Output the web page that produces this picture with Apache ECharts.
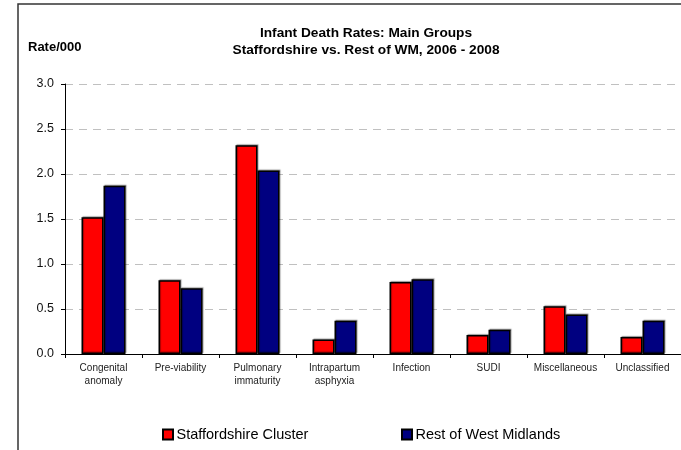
<!DOCTYPE html>
<html>
<head>
<meta charset="utf-8">
<script src="https://cdn.jsdelivr.net/npm/echarts@6/dist/echarts.min.js"></script>
<style>html,body{margin:0;padding:0;background:#fff;}#c{width:681px;height:450px;}</style>
</head>
<body>
<div id="c"></div>
<script>
var categories = ['Congenital\nanomaly', 'Pre-viability', 'Pulmonary\nimmaturity', 'Intrapartum\nasphyxia', 'Infection', 'SUDI', 'Miscellaneous', 'Unclassified'];
var staffordshire = [1.52, 0.82, 2.32, 0.16, 0.80, 0.21, 0.53, 0.19];
var restOfWM = [1.87, 0.73, 2.04, 0.37, 0.83, 0.27, 0.44, 0.37];
var seriesNames = ['Staffordshire Cluster', 'Rest of West Midlands'];
var titleLines = ['Infant Death Rates: Main Groups', 'Staffordshire vs. Rest of WM, 2006 - 2008'];
var yAxisTitle = 'Rate/000';

var FONT = 'Liberation Sans, Arial, sans-serif';
var chart = echarts.init(document.getElementById('c'), null, {renderer: 'canvas'});
var barStyle = function (color) {
  return {
    color: color,
    borderColor: '#000',
    borderWidth: 1.5,
    shadowColor: 'rgba(0,0,0,0.35)',
    shadowBlur: 1,
    shadowOffsetX: 1,
    shadowOffsetY: -1
  };
};
chart.setOption({
  animation: false,
  backgroundColor: '#fff',
  textStyle: {fontFamily: FONT},
  graphic: [{
    type: 'rect',
    shape: {x: 18, y: 4, width: 720, height: 520},
    style: {fill: 'none', stroke: '#333', lineWidth: 1.5},
    silent: true
  }],
  title: [{
    text: titleLines.join('\n'),
    left: 361,
    top: 19,
    textAlign: 'center',
    textStyle: {fontFamily: FONT, fontSize: 13.7, fontWeight: 'bold', color: '#000', lineHeight: 17.6}
  }, {
    text: yAxisTitle,
    left: 23,
    top: 36,
    textStyle: {fontFamily: FONT, fontSize: 13, fontWeight: 'bold', color: '#000'}
  }],
  legend: [{
    data: [seriesNames[0]],
    left: 157,
    top: 422,
    itemWidth: 10,
    itemHeight: 10,
    icon: 'rect',
    textStyle: {fontFamily: FONT, fontSize: 14.5, color: '#000', padding: [0, 0, 0, -1.5]}
  }, {
    data: [seriesNames[1]],
    left: 396,
    top: 422,
    itemWidth: 10,
    itemHeight: 10,
    icon: 'rect',
    textStyle: {fontFamily: FONT, fontSize: 14.5, color: '#000', padding: [0, 0, 0, -1.5]}
  }],
  grid: {left: 65, top: 84, width: 621, height: 270, containLabel: false},
  xAxis: {
    type: 'category',
    data: categories,
    axisLine: {lineStyle: {color: '#000', width: 1}},
    axisTick: {show: true, length: 4, lineStyle: {color: '#000'}},
    axisLabel: {fontFamily: FONT, fontSize: 10, color: '#222', lineHeight: 13, margin: 8, interval: 0}
  },
  yAxis: {
    type: 'value',
    min: 0,
    max: 3,
    interval: 0.5,
    axisLine: {show: true, lineStyle: {color: '#000', width: 1}},
    axisTick: {show: true, length: 4, lineStyle: {color: '#000'}},
    axisLabel: {fontFamily: FONT, fontSize: 12.5, color: '#111', margin: 11, formatter: function (v) { return v.toFixed(1); }},
    splitLine: {show: true, lineStyle: {color: '#c0c0c0', type: [8, 6], width: 1}}
  },
  series: [{
    name: seriesNames[0],
    type: 'bar',
    data: staffordshire,
    barWidth: 22,
    barGap: '0%',
    itemStyle: barStyle('#ff0000')
  }, {
    name: seriesNames[1],
    type: 'bar',
    data: restOfWM,
    barWidth: 22,
    barGap: '0%',
    itemStyle: barStyle('#000080')
  }]
});
</script>
</body>
</html>
